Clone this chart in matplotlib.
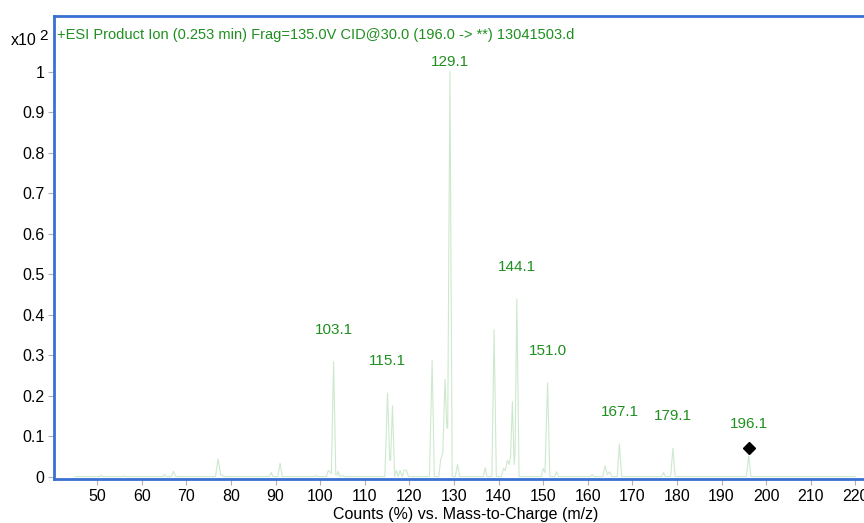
import numpy as np
import matplotlib.pyplot as plt

plt.rcParams['font.family'] = ['Liberation Sans', 'DejaVu Sans']

# profile spectrum (m/z, counts x10^2)
mz = [45.0, 50.6, 50.9, 51.2, 55.7, 56.0, 56.3, 64.7, 65.1, 65.5, 66.6, 67.1, 67.6,
      76.5, 77.1, 77.7, 78.1, 78.4, 88.6, 89.0, 89.4, 90.5, 91.0, 91.5, 98.7, 99.0, 99.3,
      101.4, 101.8, 102.5, 103.0, 103.5, 103.8, 104.0, 104.4, 105.0, 105.3,
      114.5, 115.1, 115.6, 115.8, 116.2, 116.7, 117.1, 117.5, 117.9, 118.4, 118.8, 119.3, 119.8,
      124.5, 125.1, 125.6, 126.6, 127.0, 127.5, 128.0, 128.4, 128.6, 129.1, 129.6,
      130.3, 130.8, 131.3, 136.6, 137.0, 137.4, 138.5, 139.0, 139.5,
      140.6, 141.1, 141.5, 142.0, 142.4, 142.7, 143.1, 143.5, 143.7, 144.1, 144.6,
      149.6, 150.0, 150.4, 151.0, 151.5, 152.6, 153.0, 153.5,
      160.6, 161.0, 161.4, 163.4, 163.9, 164.4, 164.9, 165.4, 166.6, 167.1, 167.6,
      176.6, 177.0, 177.4, 178.6, 179.1, 179.6, 195.6, 196.1, 196.6, 220.0]
counts = [0.0, 0.0, 0.003, 0.0, 0.0, 0.002, 0.0, 0.0, 0.005, 0.0, 0.0, 0.013, 0.0,
          0.0, 0.043, 0.003, 0.003, 0.0, 0.0, 0.01, 0.0, 0.0, 0.033, 0.0, 0.0, 0.003, 0.0,
          0.0, 0.015, 0.008, 0.284, 0.004, 0.004, 0.013, 0.0, 0.003, 0.0,
          0.0, 0.206, 0.04, 0.04, 0.175, 0.0, 0.015, 0.0, 0.015, 0.0, 0.015, 0.016, 0.0,
          0.0, 0.287, 0.0, 0.0, 0.04, 0.06, 0.24, 0.12, 0.12, 1.0, 0.0,
          0.0, 0.03, 0.0, 0.0, 0.022, 0.0, 0.0, 0.362, 0.0,
          0.0, 0.02, 0.015, 0.04, 0.03, 0.05, 0.185, 0.03, 0.06, 0.438, 0.0,
          0.0, 0.02, 0.01, 0.232, 0.0, 0.0, 0.012, 0.0,
          0.0, 0.005, 0.0, 0.0, 0.027, 0.005, 0.012, 0.0, 0.0, 0.081, 0.0,
          0.0, 0.01, 0.0, 0.0, 0.07, 0.0, 0.0, 0.051, 0.0, 0.0]

peak_mz = [103.1, 115.1, 129.1, 144.1, 151.0, 167.1, 179.1, 196.1]
peak_counts = [0.284, 0.206, 1.0, 0.438, 0.232, 0.081, 0.07, 0.051]
peak_labels = ['103.1', '115.1', '129.1', '144.1', '151.0', '167.1', '179.1', '196.1']

precursor_mz = 196.1
precursor_counts = 0.07

title = '+ESI Product Ion (0.253 min) Frag=135.0V CID@30.0 (196.0 -> **) 13041503.d'
yticks = [0, 0.1, 0.2, 0.3, 0.4, 0.5, 0.6, 0.7, 0.8, 0.9, 1]
yticklabels = ['0', '0.1', '0.2', '0.3', '0.4', '0.5', '0.6', '0.7', '0.8', '0.9', '1']
xticks = list(range(50, 230, 10))

green = '#1f8f1f'
frame = '#3a6fd3'

fig = plt.figure(figsize=(8.64, 5.23), dpi=100)
ax = fig.add_axes([0.0625, 0.0841, 0.9532, 0.8853])

ax.plot(mz, counts, color='#cde9cd', lw=0.8)
ax.plot([precursor_mz], [precursor_counts], marker='D', color='black', ms=6, ls='none')

for x, y, lab in zip(peak_mz, peak_counts, peak_labels):
    off = 7 if y > 0.9 else 23
    ax.annotate(lab, (x, y), xytext=(0, off), textcoords='offset points',
                ha='center', va='center', color=green, fontsize=11)

ax.text(0.004, 0.958, title, transform=ax.transAxes, color=green, fontsize=10.5,
        ha='left', va='center')
fig.text(0.012, 0.922, 'x10', fontsize=11.5, ha='left', va='center')
fig.text(0.046, 0.931, '2', fontsize=11, ha='left', va='center')

ax.set_xlim(40.3, 225)
ax.set_ylim(-0.006, 1.1375)
ax.set_xticks(xticks)
ax.set_yticks(yticks)
ax.set_yticklabels(yticklabels)
ax.tick_params(axis='both', labelsize=11.5, color='#b0b0b0', length=4, width=0.8, pad=3)
ax.set_xlabel('Counts (%) vs. Mass-to-Charge (m/z)', fontsize=11.5, labelpad=2)

for s in ax.spines.values():
    s.set_color(frame)
    s.set_linewidth(2)

fig.savefig('out.png', dpi=100)
